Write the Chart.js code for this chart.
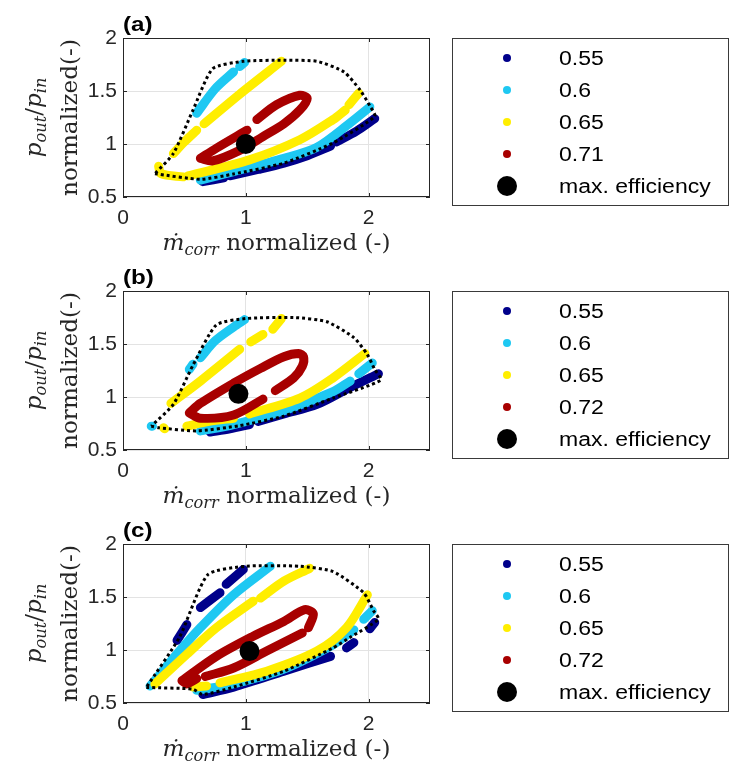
<!DOCTYPE html>
<html>
<head>
<meta charset="utf-8">
<script src="https://cdn.jsdelivr.net/npm/chart.js@4.4.1/dist/chart.umd.min.js"></script>
<style>
    body { margin: 0; background: #fff; }
    #wrap { position: relative; width: 738px; height: 767px; }
    #wrap canvas { position: absolute; left: 0; top: 0; }
</style>
</head>
<body>
<div id="wrap">
    <canvas id="panelA" width="738" height="767"></canvas>
    <canvas id="panelB" width="738" height="767"></canvas>
    <canvas id="panelC" width="738" height="767"></canvas>
</div>
<script>
// axis ticks shared by all three maps
const xTicks = [0, 1, 2];
const yTicks = [0.5, 1, 1.5, 2];

// efficiency levels shown in each legend
const levelsA = ['0.55', '0.6', '0.65', '0.71'];
const levelsB = ['0.55', '0.6', '0.65', '0.72'];
const levelsC = ['0.55', '0.6', '0.65', '0.72'];

// every contour is a list of segments, every segment a list of [mass flow, pressure ratio]
// ---- (a)
const edgeA = [[0.26,0.72],[0.63,0.667],[0.90,0.717],[1.31,0.82],[1.71,1.01],[2.05,1.26],[2.01,1.36],[1.93,1.51],[1.80,1.68],[1.58,1.78],[1.31,1.79],[0.98,1.78],[0.73,1.71],[0.57,1.32],[0.41,0.91],[0.26,0.72]];
const a055 = [
    [[0.65,0.645],[0.82,0.68]],
    [[0.87,0.70],[1.10,0.76],[1.31,0.82],[1.50,0.89],[1.69,0.98]],
    [[1.74,1.02],[1.90,1.12],[2.05,1.24]]
];
const a060 = [
    [[0.60,1.29],[0.75,1.52],[0.90,1.68]],
    [[0.95,1.73],[0.99,1.77]],
    [[0.63,0.66],[0.90,0.74],[1.31,0.865],[1.58,0.97],[1.85,1.20],[2.01,1.35]]
];
const a065 = [
    [[0.41,0.91],[0.50,1.02],[0.60,1.13]],
    [[0.66,1.19],[0.95,1.47],[1.29,1.78]],
    [[0.29,0.79],[0.31,0.72],[0.49,0.69]],
    [[0.53,0.70],[1.03,0.85],[1.44,1.04],[1.71,1.23],[1.81,1.32]],
    [[1.84,1.37],[1.92,1.48]]
];
const a071 = [
    [[0.63,0.865],[0.76,0.96],[1.01,1.13]],
    [[1.09,1.23],[1.25,1.37],[1.44,1.46],[1.50,1.43],[1.44,1.32],[1.31,1.19],[1.14,1.07],[0.95,0.94],[0.73,0.84],[0.63,0.865]]
];
const maxEffA = [1.0, 1.0];

// ---- (b)
const edgeB = [[0.23,0.725],[0.29,0.71],[0.60,0.68],[0.95,0.73],[1.31,0.82],[1.71,0.99],[2.10,1.16],[2.05,1.26],[1.99,1.40],[1.88,1.56],[1.66,1.71],[1.39,1.75],[1.00,1.74],[0.76,1.68],[0.57,1.30],[0.41,0.93],[0.23,0.725]];
const b055 = [
    [[0.71,0.67],[0.87,0.70],[1.03,0.74]],
    [[1.10,0.77],[1.31,0.84],[1.58,0.93],[1.85,1.09],[2.08,1.22]]
];
const b060 = [
    [[0.23,0.725],[0.24,0.725]],
    [[0.54,1.26],[0.57,1.31]],
    [[0.63,1.37],[0.75,1.53],[0.90,1.66],[0.99,1.73]],
    [[0.63,0.68],[0.90,0.74],[1.31,0.87],[1.71,1.05],[1.85,1.15]],
    [[1.92,1.22],[2.03,1.32]]
];
const b065 = [
    [[0.33,0.71],[0.34,0.70]],
    [[0.39,0.94],[0.63,1.15],[0.95,1.45]],
    [[1.04,1.52],[1.14,1.59]],
    [[1.22,1.64],[1.29,1.74]],
    [[0.52,0.725],[0.70,0.77],[0.90,0.80]],
    [[1.03,0.84],[1.44,0.99],[1.71,1.18],[1.97,1.41]]
];
const b072 = [
    [[0.54,0.85],[0.63,0.80],[0.90,0.83],[1.14,0.98]],
    [[1.24,1.06],[1.39,1.18],[1.46,1.29],[1.47,1.38],[1.43,1.41],[1.31,1.38],[1.12,1.27],[0.90,1.13],[0.63,0.94],[0.54,0.85]]
];
const maxEffB = [0.94, 1.03];

// ---- (c)
const edgeC = [[0.19,0.647],[0.57,0.63],[0.65,0.58],[0.90,0.65],[1.31,0.80],[1.71,1.02],[1.85,1.12],[2.08,1.29],[2.04,1.37],[1.96,1.54],[1.71,1.74],[1.44,1.79],[1.00,1.79],[0.69,1.71],[0.46,1.12],[0.19,0.647]];
const c055 = [
    [[0.44,1.09],[0.52,1.24]],
    [[0.63,1.40],[0.79,1.54]],
    [[0.84,1.62],[0.98,1.76]],
    [[0.65,0.58],[0.90,0.65],[1.31,0.80],[1.69,0.94]],
    [[1.82,1.02],[1.88,1.07]],
    [[2.01,1.20],[2.05,1.26]]
];
const c060 = [
    [[0.22,0.66],[0.46,0.99],[0.63,1.21],[0.90,1.52],[1.20,1.79]],
    [[0.60,0.62],[0.90,0.68],[1.31,0.82],[1.71,1.05],[1.88,1.19]],
    [[1.96,1.29],[2.03,1.37]]
];
const c065 = [
    [[0.26,0.68],[0.52,0.96],[0.76,1.21],[1.06,1.46]],
    [[1.12,1.49],[1.31,1.65],[1.52,1.77]],
    [[0.57,0.65],[0.68,0.66]],
    [[0.79,0.69],[1.17,0.80],[1.58,0.99],[1.82,1.21],[1.99,1.52]]
];
const c072 = [
    [[0.48,0.71],[0.76,0.94],[1.06,1.13],[1.31,1.27],[1.48,1.38],[1.55,1.34],[1.51,1.21]],
    [[1.46,1.16],[1.17,0.99],[0.90,0.83],[0.67,0.75]],
    [[0.60,0.73],[0.52,0.68],[0.48,0.71]]
];
const maxEffC = [1.03, 0.99];

const levelColors = ['#00008b', '#1ec8f2', '#ffee00', '#a80000'];
const INK = '#262626';
const SANS = '"Liberation Sans", Arial, sans-serif';
const SERIF = '"DejaVu Serif", serif';
const WIDE = 1.15; // sans labels are drawn a bit wider than the plain font

// join segments with a null point so the line breaks between them
function toPoints(segments) {
    const out = [];
    segments.forEach((seg, i) => {
        if (i > 0) out.push({ x: null, y: null });
        seg.forEach(p => out.push({ x: p[0], y: p[1] }));
    });
    return out;
}

function contour(segments, color, order) {
    return {
        data: toPoints(segments),
        showLine: true,
        borderColor: color,
        borderWidth: 9,
        borderCapStyle: 'round',
        borderJoinStyle: 'round',
        tension: 0.3,
        pointRadius: 0,
        order: order
    };
}

// rich text run: pieces of {t, italic, sub}
function richWidth(ctx, pieces, size) {
    let w = 0;
    pieces.forEach(p => {
        const s = p.sub ? size * 0.7 : size;
        ctx.font = (p.italic ? 'italic ' : '') + s + 'px ' + SERIF;
        w += ctx.measureText(p.t).width;
    });
    return w;
}

function drawRich(ctx, pieces, size, cx, baseline) {
    let x = cx - richWidth(ctx, pieces, size) / 2;
    ctx.textBaseline = 'alphabetic';
    ctx.textAlign = 'left';
    pieces.forEach(p => {
        const s = p.sub ? size * 0.7 : size;
        ctx.font = (p.italic ? 'italic ' : '') + s + 'px ' + SERIF;
        ctx.fillText(p.t, x, baseline + (p.sub ? size * 0.22 : 0));
        x += ctx.measureText(p.t).width;
    });
}

function wideText(ctx, txt, x, y) {
    ctx.save();
    ctx.translate(x, y);
    ctx.scale(WIDE, 1);
    ctx.fillText(txt, 0, 0);
    ctx.restore();
}

let serifSize = null;

const panelDecor = {
    id: 'panelDecor',
    afterDraw(chart, args, opts) {
        const ctx = chart.ctx;
        const { left, right, top, bottom } = chart.chartArea;
        const xs = chart.scales.x, ys = chart.scales.y;
        ctx.save();

        // axes box and inward tick marks
        ctx.strokeStyle = INK;
        ctx.lineWidth = 1;
        ctx.strokeRect(Math.round(left) + 0.5, Math.round(top) + 0.5, Math.round(right - left) - 1, Math.round(bottom - top) - 1);
        ctx.beginPath();
        xTicks.forEach(v => {
            const px = Math.round(xs.getPixelForValue(v)) + 0.5;
            ctx.moveTo(px, bottom); ctx.lineTo(px, bottom - 4);
            ctx.moveTo(px, top); ctx.lineTo(px, top + 4);
        });
        yTicks.forEach(v => {
            const py = Math.round(ys.getPixelForValue(v)) + 0.5;
            ctx.moveTo(left, py); ctx.lineTo(left + 4, py);
            ctx.moveTo(right, py); ctx.lineTo(right - 4, py);
        });
        ctx.stroke();

        // panel tag
        ctx.fillStyle = '#000';
        ctx.font = 'bold 21px ' + SANS;
        ctx.textAlign = 'left';
        ctx.textBaseline = 'alphabetic';
        wideText(ctx, opts.tag, 123, top - 7);

        // axis titles
        if (serifSize === null) {
            ctx.font = '100px ' + SERIF;
            serifSize = 100 * 157 / ctx.measureText('normalized(-)').width;
        }
        const f = serifSize;
        ctx.fillStyle = INK;
        drawRich(ctx, [
            { t: '\u1E41', italic: true },
            { t: 'corr', italic: true, sub: true },
            { t: ' normalized (-)' }
        ], f, (left + right) / 2, bottom + 53);

        const cy = (top + bottom) / 2;
        ctx.save();
        ctx.translate(41, cy);
        ctx.rotate(-Math.PI / 2);
        drawRich(ctx, [
            { t: 'p', italic: true },
            { t: 'out', italic: true, sub: true },
            { t: '/' },
            { t: 'p', italic: true },
            { t: 'in', italic: true, sub: true }
        ], f, 0, 0);
        ctx.restore();
        ctx.save();
        ctx.translate(77, cy);
        ctx.rotate(-Math.PI / 2);
        drawRich(ctx, [{ t: 'normalized(-)' }], f, 0, 0);
        ctx.restore();

        // legend box
        const lx = 452, lw = 276, ly = Math.round(top), lh = 167;
        ctx.fillStyle = '#fff';
        ctx.fillRect(lx, ly, lw, lh);
        ctx.strokeStyle = '#3a3a3a';
        ctx.strokeRect(lx + 0.5, ly + 0.5, lw, lh);
        const labels = opts.levels.concat(['max. efficiency']);
        labels.forEach((txt, i) => {
            const ry = ly + 20 + i * 32;
            ctx.beginPath();
            ctx.fillStyle = i < 4 ? levelColors[i] : '#000';
            ctx.arc(507, ry, i < 4 ? 4 : 10, 0, Math.PI * 2);
            ctx.fill();
            ctx.fillStyle = '#000';
            ctx.font = '20px ' + SANS;
            ctx.textBaseline = 'middle';
            wideText(ctx, txt, 559, ry + 1);
        });
        ctx.restore();
    }
};

function makePanel(id, top, tag, levels, edge, c055, c060, c065, cTop, maxEff) {
    const plotH = 159;
    const xAxisH = 30;
    return new Chart(document.getElementById(id), {
        type: 'scatter',
        data: {
            datasets: [
                { data: [{ x: maxEff[0], y: maxEff[1] }], pointRadius: 10, pointBackgroundColor: '#000', pointBorderWidth: 0, order: 0 },
                { data: toPoints([edge]), showLine: true, borderColor: '#000', borderWidth: 3, borderDash: [3, 3], tension: 0.2, pointRadius: 0, order: 1 },
                contour(cTop, levelColors[3], 2),
                contour(c065, levelColors[2], 3),
                contour(c060, levelColors[1], 4),
                contour(c055, levelColors[0], 5)
            ]
        },
        options: {
            responsive: false,
            animation: false,
            events: [],
            layout: { padding: { left: 0, right: 308, top: top, bottom: 767 - top - plotH - xAxisH } },
            plugins: {
                legend: { display: false },
                tooltip: { enabled: false },
                panelDecor: { tag: tag, levels: levels }
            },
            scales: {
                x: {
                    type: 'linear',
                    min: 0,
                    max: 2.5,
                    afterBuildTicks: s => { s.ticks = xTicks.map(v => ({ value: v })); },
                    afterFit: s => { s.height = xAxisH; },
                    grid: { color: '#e3e3e3', drawTicks: false },
                    border: { display: false },
                    ticks: { padding: 9, color: INK, font: { family: SANS, size: 21 }, maxRotation: 0, callback: v => String(v) }
                },
                y: {
                    type: 'linear',
                    min: 0.5,
                    max: 2,
                    afterBuildTicks: s => { s.ticks = yTicks.map(v => ({ value: v })); },
                    afterFit: s => { s.width = 123; },
                    grid: { color: '#e3e3e3', drawTicks: false },
                    border: { display: false },
                    ticks: { padding: 6, color: INK, font: { family: SANS, size: 21 }, callback: v => String(v) }
                }
            }
        },
        plugins: [panelDecor]
    });
}

makePanel('panelA', 38, '(a)', levelsA, edgeA, a055, a060, a065, a071, maxEffA);
makePanel('panelB', 291, '(b)', levelsB, edgeB, b055, b060, b065, b072, maxEffB);
makePanel('panelC', 544, '(c)', levelsC, edgeC, c055, c060, c065, c072, maxEffC);
</script>
</body>
</html>
